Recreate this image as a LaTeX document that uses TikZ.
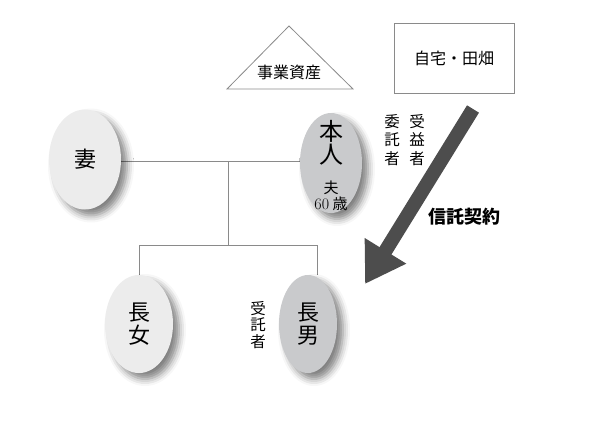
\documentclass[tikz,border=0pt]{standalone}
\usepackage{xcolor}
\usepackage{fontspec}
\usepackage{tikz}
\newfontfamily\jp{Noto Sans CJK JP}
\usetikzlibrary{shapes.geometric, arrows.meta, backgrounds, shadows.blur}

\definecolor{lightfill}{HTML}{ECECEC}
\definecolor{darkfill}{HTML}{C9CACC}
\definecolor{linegray}{HTML}{8A8A8A}
\definecolor{arrowgray}{HTML}{4D4D4D}

\begin{document}
\begin{tikzpicture}[
  x=1pt, y=-1pt,
  person/.style={ellipse, inner sep=0pt, align=center,
             font=\jp\fontsize{22}{23}\selectfont,
             blur shadow={shadow xshift=6pt, shadow yshift=-6pt,
                          shadow blur radius=7pt, shadow opacity=50}},
  lightperson/.style={person, fill=lightfill},
  darkperson/.style={person, fill=darkfill},
  vtext/.style={align=center, inner sep=0pt, font=\jp\fontsize{15.5}{18.5}\selectfont},
  family/.style={draw=linegray, line width=0.8pt},
  marriage/.style={draw=linegray, line width=0.8pt, double=white, double distance=2.4pt},
  bigarrow/.style={-{Triangle[length=39pt, width=46pt]}, line width=14pt, color=arrowgray}
]
\useasboundingbox (0,0) rectangle (591,424);

\node[lightperson, minimum width=72pt, minimum height=100pt] (wife) at (85,159.5) {妻};
\node[darkperson, minimum width=62pt, minimum height=100pt] (self) at (331,163) {};
\node[align=center, inner sep=0pt, font=\jp\fontsize{24}{23}\selectfont] (selfname) at (331,143) {本\\人};
\node[align=center, inner sep=0pt, font=\jp\fontsize{15}{16}\selectfont] (selfage) at (331,196)
  {夫\\{\rmfamily\fontsize{16}{16}\selectfont 60} 歳};
\node[lightperson, minimum width=68pt, minimum height=98pt] (daughter) at (139,324) {長\\女};
\node[darkperson, minimum width=58pt, minimum height=98pt] (son) at (308,324) {長\\男};

\coordinate (couple) at (228,161);
\coordinate (siblings) at (228,245);
\coordinate (sonlink) at (317,245);
\begin{scope}[on background layer]
  \draw[marriage] (wife.east) -- (wife.east -| self.west);
  \draw[family] (couple) -- (siblings);
  \draw[family] (daughter.north) |- (sonlink) -- (sonlink |- son.north);
\end{scope}

\draw[family] (289,26) -- (353,89) -- (227,89) -- cycle;
\node[inner sep=0pt, font=\jp\fontsize{16}{16}\selectfont] (business) at (289,72) {事業資産};

\node[draw=linegray, line width=0.8pt, minimum width=120pt, minimum height=70pt,
      font=\jp\fontsize{16}{16}\selectfont] (home) at (454,58) {自宅・田畑};

\node[vtext] (trustor) at (392,140) {委\\託\\者};
\node[vtext] (beneficiary) at (417,140) {受\\益\\者};
\node[vtext, font=\jp\fontsize{15.5}{16.7}\selectfont] (trustee) at (258,325) {受\\託\\者};

\coordinate (contractstart) at (473,109);
\coordinate (contractend) at (365,284);
\draw[bigarrow] (contractstart) -- (contractend);
\node[inner sep=0pt, font=\jp\bfseries\fontsize{18}{18}\selectfont] (contract) at (464,217) {信託契約};

\end{tikzpicture}
\end{document}
